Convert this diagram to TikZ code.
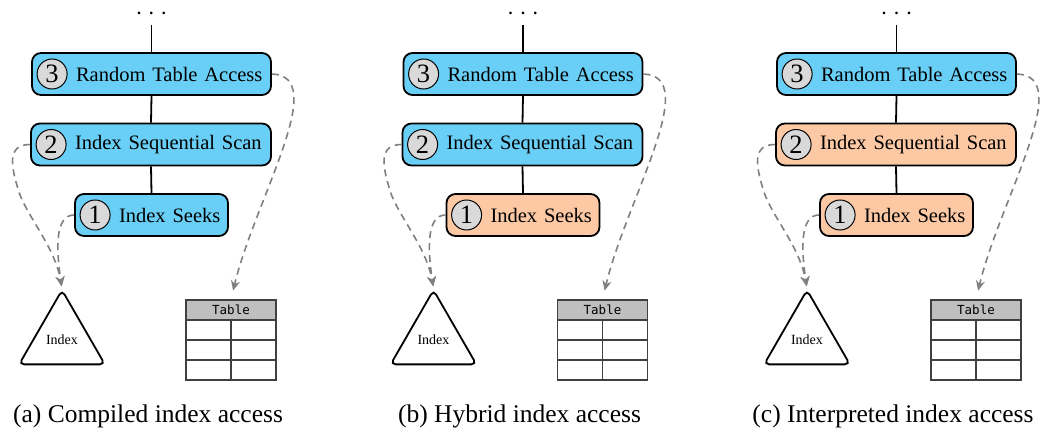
\documentclass[tikz,border=0pt]{standalone}
\usepackage{fontspec}
\setmainfont{Liberation Serif}
\newfontfamily\monofont{DejaVu Sans Mono}
\usetikzlibrary{arrows.meta,shapes.geometric,calc}
\definecolor{boxblue}{RGB}{106,207,246}
\definecolor{boxorange}{RGB}{252,201,164}
\definecolor{circgray}{RGB}{217,217,217}
\definecolor{headgray}{RGB}{191,191,191}
\definecolor{arrowgray}{RGB}{128,128,128}
\definecolor{tblline}{RGB}{64,64,64}
\tikzset{
  opbox/.style={draw=black, line width=1.8pt, rounded corners=9pt, minimum height=42pt,
    inner xsep=7pt, inner ysep=0pt, align=left, font=\fontsize{20.5}{24}\selectfont},
  numcirc/.style={circle, draw=black, line width=1pt, fill=circgray, minimum size=30pt,
    inner sep=0pt, font=\fontsize{26.5}{28}\selectfont},
  flow/.style={draw=black, line width=1.8pt},
  access/.style={draw=arrowgray, line width=1.6pt, dash pattern=on 7pt off 5pt,
    -{Stealth[length=10pt,width=9pt]}},
  idxtri/.style={regular polygon, regular polygon sides=3, draw=black, line width=1.8pt,
    rounded corners=5pt, minimum size=99pt, inner sep=0pt, font=\fontsize{14}{16}\selectfont},
  tblcell/.style={draw=tblline, line width=1.2pt, minimum width=45pt, minimum height=20pt, inner sep=0pt},
  tblhead/.style={draw=tblline, line width=1.2pt, fill=headgray, minimum width=90pt,
    minimum height=20pt, inner sep=0pt, font=\monofont\fontsize{12.5}{14}\selectfont},
  captext/.style={font=\fontsize{25.5}{30}\selectfont},
  dotstext/.style={font=\bfseries\fontsize{16}{18}\selectfont, inner sep=0pt, anchor=base,
    text height=4pt, text depth=0pt},
}
\newcommand\drawpanel[6]{%
  \node[dotstext] (#2dots) at (151.5+#1, 15) {.\hspace{8.5pt}.\hspace{8.5pt}.};
  \coordinate (#2top) at (151.5+#1, 25);
  \node[opbox, fill=#5, text width=225pt] (#2b3) at (151.5+#1, 74) {\hspace*{37pt}Random Table Access};
  \node[opbox, fill=#4, text width=226pt] (#2b2) at (151.0+#1, 144.5) {\hspace*{37pt}Index Sequential Scan};
  \node[opbox, fill=#3, text width=139pt] (#2b1) at (151.5+#1, 215) {\hspace*{37pt}Index Seeks};
  \node[numcirc] (#2n3) at ([xshift=21pt]#2b3.west) {3};
  \node[numcirc] (#2n2) at ([xshift=21pt]#2b2.west) {2};
  \node[numcirc] (#2n1) at ([xshift=21pt]#2b1.west) {1};
  \draw[flow] (#2top) -- (#2b3.north);
  \draw[flow] (#2b3.south) -- (#2b2.north);
  \draw[flow] (#2b2.south) -- (#2b1.north);
  \node[idxtri] (#2idx) at (62+#1, 339.6) {Index};
  \node[tblhead] (#2th) at (231+#1, 310) {Table};
  \node[tblcell] (#2c11) at (208.5+#1, 330) {};
  \node[tblcell] (#2c12) at (253.5+#1, 330) {};
  \node[tblcell] (#2c21) at (208.5+#1, 350) {};
  \node[tblcell] (#2c22) at (253.5+#1, 350) {};
  \node[tblcell] (#2c31) at (208.5+#1, 370) {};
  \node[tblcell] (#2c32) at (253.5+#1, 370) {};
  \coordinate (#2lmid) at (20+#1, 195);
  \draw[access, shorten >=9pt] (#2b3.east) .. controls +(59,2) and +(24,-100) .. (#2th.north);
  \draw[access, shorten >=2pt] (#2b2.west) .. controls +(-23,0) and +(-10,-30) .. (#2lmid)
     .. controls +(10,25) and +(-7,-40) .. (#2idx.corner 1);
  \draw[access, shorten >=2pt] (#2b1.west) .. controls +(-19,0) and +(-6,-40) .. (#2idx.corner 1);
  \node[captext] (#2cap) at (148+#1, 416) {#6};
}
\begin{document}
\begin{tikzpicture}[x=1pt, y=-1pt]
  \fill[white] (0,0) rectangle (1047,436);
  \useasboundingbox (0,0) rectangle (1047,436);
  \drawpanel{0}{pa}{boxblue}{boxblue}{boxblue}{(a) Compiled index access}
  \drawpanel{371.5}{pb}{boxorange}{boxblue}{boxblue}{(b) Hybrid index access}
  \drawpanel{745}{pc}{boxorange}{boxorange}{boxblue}{(c) Interpreted index access}
\end{tikzpicture}
\end{document}
